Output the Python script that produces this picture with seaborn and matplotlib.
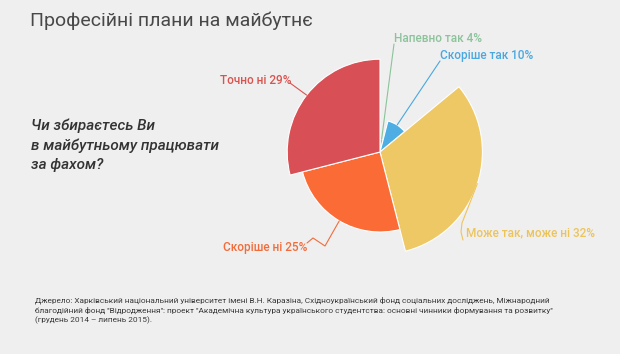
import numpy as np
import matplotlib.pyplot as plt
from matplotlib.lines import Line2D
import seaborn as sns

# data
categories = ["Напевно так", "Скоріше так", "Може так, може ні", "Скоріше ні", "Точно ні"]
shares = [4, 10, 32, 25, 29]
colors = ["#9ccaa6", "#4eaee3", "#edc865", "#fa6b36", "#d85055"]
label_colors = ["#8cc39b", "#4aa8e0", "#ecc45c", "#f26c3b", "#d9534f"]

title = "Професійні плани на майбутнє"
question = "Чи збираєтесь Ви\nв майбутньому працювати\nза фахом?"
source = ("Джерело: Харківський національний університет імені В.Н. Каразіна, Східноукраїнський фонд соціальних досліджень, Міжнародний\n"
          "благодійний фонд \"Відродження\": проект \"Академічна культура українського студентства: основні чинники формування та розвитку\"\n"
          "(грудень 2014 – липень 2015).")

W, H = 620, 354
sns.set_theme(style="white", rc={"figure.facecolor": "#efefef", "axes.facecolor": "none"})
plt.rcParams["font.family"] = ["Roboto", "DejaVu Sans"]

fig = plt.figure(figsize=(W / 100, H / 100), dpi=100)


def fx(x):
    return x / W


def fy(y):
    return 1 - y / H


# polar axes placed so the pie centre sits where it is in the original
cx, cy, R = 380, 152, 112
rmax = 35
ax = fig.add_axes([fx(cx - R), fy(cy + R), 2 * R / W, 2 * R / H], projection="polar")
ax.set_theta_zero_location("N")
ax.set_theta_direction(-1)
ax.set_ylim(0, rmax)
ax.axis("off")

vals = np.array(shares, dtype=float)
widths = vals / 100 * 2 * np.pi
starts = np.concatenate([[0], np.cumsum(widths)[:-1]])
ax.bar(starts, vals, width=widths, align="edge", color=colors,
       edgecolor="white", linewidth=0.8)

# label text placement (px) and connector elbows (px)
label_xy = [(394, 39, "left"), (440, 56, "left"), (466, 233, "left"),
            (307, 248, "right"), (291, 81, "right")]
elbows = [
    [(394, 44)],
    [(440, 61)],
    [(463, 240), (461, 232), (462, 223)],
    [(307, 243), (313, 238), (325, 246)],
    [(290, 83)],
]

fig.canvas.draw()
inv = fig.transFigure.inverted()
for i, (cat, v) in enumerate(zip(categories, shares)):
    x, y, ha = label_xy[i]
    fig.text(fx(x), fy(y), f"{cat} {v}%", color=label_colors[i], fontsize=8.5,
             fontweight="medium", ha=ha, va="center")
    mid = starts[i] + widths[i] / 2
    anchor = inv.transform(ax.transData.transform((mid, v)))
    pts = [(fx(px), fy(py)) for px, py in elbows[i]] + [tuple(anchor)]
    xs, ys = zip(*pts)
    fig.add_artist(Line2D(xs, ys, transform=fig.transFigure, color=label_colors[i], lw=0.8))

fig.text(fx(30), fy(21), title, fontsize=14, color="#484848", va="center")
fig.text(fx(31), fy(145), question, fontsize=11, fontweight="medium", color="#333333",
         style="italic", va="center", linespacing=1.45)
fig.text(fx(35), fy(310.5), source, fontsize=5.95, color="#3a3a3a", va="center",
         linespacing=1.45)

fig.savefig("out.png", dpi=100, facecolor=fig.get_facecolor())
